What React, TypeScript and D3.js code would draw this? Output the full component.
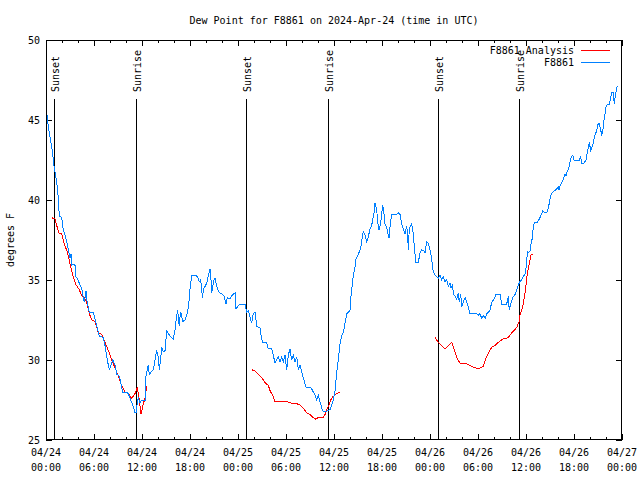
import React from 'react';
import * as d3 from 'd3';

const WIDTH = 640;
const HEIGHT = 480;
const PLOT = { left: 46, right: 622, top: 40, bottom: 440 };

const TITLE = 'Dew Point for F8861 on 2024-Apr-24 (time in UTC)';
const Y_LABEL = 'degrees F';
const START_UTC = Date.UTC(2024, 3, 24, 0, 0);
const HOURS_SPAN = 72;
const Y_DOMAIN: [number, number] = [25, 50];
const Y_TICKS = [25, 30, 35, 40, 45, 50];

// [hours since 04/24 00:00 UTC, dew point °F]
const observed: [number, number][] = [
  [0.13,45.3],[0.29,44.6],[0.79,43.1],[1.0,42.1],[1.25,41.4],[1.41,40.8],[1.54,40.1],[1.66,39.0],[1.96,38.9],[2.16,38.1],[2.38,37.8],[2.59,37.4],[2.79,36.9],[3.0,36.4],[3.13,36.6],[3.21,35.9],[3.41,36.0],[3.63,35.9],[3.71,35.2],[3.91,35.1],[4.16,34.8],[4.46,34.5],[4.66,33.9],[4.79,33.6],[5.0,34.3],[5.09,33.8],[5.29,33.3],[5.41,33.0],[5.91,33.0],[6.25,32.3],[6.66,31.5],[7.16,31.4],[7.38,30.9],[7.66,30.0],[7.91,29.4],[8.21,29.8],[8.34,30.0],[8.63,29.7],[8.84,29.1],[9.16,29.0],[9.34,28.6],[9.59,28.0],[10.0,28.0],[10.29,27.9],[10.59,27.5],[10.91,27.1],[11.13,26.7],[11.29,26.7],[11.44,27.5],[11.54,27.6],[11.75,27.3],[11.96,27.5],[12.16,27.5],[12.38,27.5],[12.5,29.0],[12.66,29.4],[12.79,29.7],[12.91,29.1],[13.41,29.4],[13.63,30.0],[13.84,30.6],[14.04,30.2],[14.16,29.4],[14.34,30.1],[14.46,30.8],[14.66,30.5],[14.88,30.6],[15.09,31.8],[15.5,31.5],[15.91,31.3],[16.13,31.9],[16.34,32.8],[16.46,33.1],[16.66,32.1],[16.75,32.7],[16.84,33.0],[17.09,32.4],[17.38,32.5],[17.59,32.8],[17.79,33.3],[17.91,33.8],[18.0,34.4],[18.09,34.8],[18.21,35.3],[18.41,35.3],[18.75,35.3],[19.04,35.1],[19.16,34.9],[19.34,35.0],[19.46,34.3],[19.59,33.9],[19.66,34.4],[19.88,34.6],[20.09,34.8],[20.29,35.3],[20.5,35.7],[20.63,35.0],[20.71,34.2],[20.84,34.6],[21.0,35.0],[21.13,35.1],[21.34,34.6],[21.54,34.3],[21.75,34.2],[22.09,34.1],[22.25,34.0],[22.5,33.5],[22.66,33.9],[23.0,33.8],[23.21,34.0],[23.41,34.1],[23.63,34.2],[23.75,33.2],[24.04,33.4],[24.25,33.5],[24.88,33.5],[25.09,33.0],[25.29,33.1],[25.5,32.7],[25.71,32.3],[25.91,32.9],[26.13,33.0],[26.34,32.1],[26.75,32.0],[26.96,31.3],[27.09,31.1],[27.59,31.1],[27.79,30.7],[28.21,30.7],[28.41,30.3],[28.63,29.8],[29.04,30.2],[29.25,29.9],[29.46,30.2],[29.66,29.9],[29.88,30.3],[30.09,29.4],[30.29,30.3],[30.5,30.7],[30.71,30.0],[30.91,30.3],[31.13,29.9],[31.34,30.2],[31.54,29.4],[31.75,29.7],[31.96,29.3],[32.16,28.9],[32.5,28.3],[33.0,28.3],[33.21,28.2],[33.41,28.0],[33.63,27.8],[33.84,27.5],[34.04,27.8],[34.25,27.4],[34.46,27.0],[34.66,26.8],[35.09,26.8],[35.5,26.9],[35.71,27.2],[35.91,27.5],[36.13,28.1],[36.34,29.2],[36.54,30.0],[36.75,31.0],[36.96,31.5],[37.16,31.7],[37.38,32.3],[37.59,32.9],[37.79,33.0],[38.0,33.1],[38.09,33.8],[38.21,34.4],[38.41,35.3],[38.63,35.8],[38.75,36.3],[39.04,36.6],[39.34,37.0],[39.54,37.7],[39.66,38.0],[39.88,37.8],[40.09,37.4],[40.29,37.7],[40.5,38.2],[40.71,38.4],[40.84,38.8],[41.0,39.2],[41.13,39.8],[41.34,39.4],[41.46,38.6],[41.63,38.1],[41.84,38.6],[42.09,39.7],[42.25,39.1],[42.38,38.5],[42.59,38.3],[42.79,37.8],[42.91,37.6],[43.0,38.3],[43.21,39.1],[43.84,39.1],[44.04,39.2],[44.25,39.1],[44.46,38.5],[44.66,38.2],[44.88,37.9],[45.09,38.4],[45.21,37.7],[45.29,36.9],[45.41,38.2],[45.59,38.4],[45.71,38.5],[45.84,38.2],[46.0,37.3],[46.13,36.6],[46.25,36.1],[46.54,36.1],[46.75,36.7],[46.96,36.9],[47.25,36.8],[47.38,36.7],[47.59,37.4],[47.79,37.3],[48.0,36.9],[48.21,36.3],[48.41,35.5],[48.63,35.3],[49.04,35.1],[49.25,35.3],[49.46,35.0],[49.66,35.2],[49.88,34.9],[50.09,35.0],[50.29,34.6],[50.5,34.8],[50.63,34.5],[50.84,34.7],[50.91,34.1],[51.13,34.0],[51.34,33.8],[51.54,34.2],[51.66,33.6],[51.84,34.1],[51.96,33.3],[52.16,33.6],[52.38,33.9],[52.59,33.6],[52.79,33.3],[53.0,32.9],[53.41,32.9],[53.84,32.9],[54.04,32.8],[54.25,32.9],[54.46,32.6],[54.66,32.8],[54.88,32.6],[55.09,32.9],[55.5,33.1],[55.71,33.6],[56.0,33.8],[56.25,34.1],[56.75,34.1],[56.96,33.5],[57.59,33.5],[57.79,34.0],[57.91,33.1],[58.09,33.5],[58.34,33.9],[58.63,34.1],[58.84,34.4],[59.04,34.7],[59.25,34.9],[59.46,35.0],[59.66,35.2],[59.88,35.4],[60.09,36.0],[60.16,36.8],[60.29,36.7],[60.5,36.8],[60.59,37.2],[60.71,37.4],[60.84,37.8],[60.91,38.4],[61.13,38.6],[61.41,38.6],[61.66,38.8],[61.84,39.0],[62.09,39.3],[62.38,39.2],[62.59,39.2],[62.79,39.5],[62.91,39.8],[63.09,40.3],[63.34,40.5],[63.63,40.6],[63.84,40.7],[64.04,40.8],[64.16,40.6],[64.25,40.9],[64.46,41.1],[64.66,41.3],[64.88,41.6],[65.0,41.5],[65.09,41.7],[65.29,41.9],[65.41,42.1],[65.59,42.6],[65.84,42.8],[66.0,42.5],[66.34,42.5],[66.66,42.5],[66.84,42.7],[66.96,42.3],[67.25,42.3],[67.5,42.5],[67.66,43.0],[67.79,43.3],[67.91,43.6],[68.09,43.1],[68.34,43.4],[68.5,43.8],[68.63,44.1],[68.84,44.3],[68.96,44.7],[69.13,44.8],[69.34,44.4],[69.46,44.0],[69.59,44.3],[69.75,45.0],[69.88,45.4],[70.0,45.8],[70.16,46.0],[70.41,46.0],[70.59,46.4],[70.71,46.7],[70.91,46.7],[71.04,46.0],[71.16,46.5],[71.34,47.0],[71.41,47.1]
];

const analysisNight1: [number, number][] = [
  [0.71,38.9],[1.13,38.8],[1.34,38.4],[1.66,37.9],[1.96,37.9],[2.16,37.5],[2.38,37.1],[2.66,36.8],[3.0,36.0],[3.21,35.6],[3.41,35.2],[3.75,34.7],[4.16,34.4],[4.46,34.0],[4.75,33.9],[5.09,33.6],[5.41,32.9],[5.71,32.5],[6.13,32.4],[6.54,31.7],[6.96,31.6],[7.38,31.1],[7.79,30.6],[8.21,30.0],[8.63,29.5],[9.04,29.0],[9.46,28.4],[9.88,28.0],[10.29,27.9],[10.71,27.6],[11.13,27.9],[11.41,28.3],[11.66,27.5],[11.88,26.6],[12.09,27.1],[12.41,27.7],[12.59,28.4]
];
const analysisNight2: [number, number][] = [
  [25.71,29.4],[26.13,29.3],[26.54,29.1],[26.96,28.9],[27.38,28.6],[27.79,28.4],[28.0,28.1],[28.41,27.7],[28.63,27.4],[29.25,27.4],[30.09,27.4],[30.71,27.3],[31.13,27.3],[31.75,27.2],[32.16,27.0],[32.59,26.7],[33.0,26.6],[33.41,26.4],[33.63,26.3],[34.04,26.4],[34.66,26.4],[34.88,26.6],[35.16,27.0],[35.41,27.2],[35.59,27.5],[35.84,27.7],[36.13,27.8],[36.34,27.9],[36.75,28.0]
];
const analysisNight3: [number, number][] = [
  [48.63,31.4],[49.04,31.1],[49.46,30.9],[49.88,30.7],[50.29,30.9],[50.71,31.1],[51.13,30.5],[51.41,30.1],[51.75,29.8],[52.38,29.8],[52.79,29.7],[53.21,29.6],[53.75,29.5],[54.25,29.5],[54.66,29.6],[55.0,30.1],[55.29,30.4],[55.71,30.8],[56.13,30.9],[56.54,31.1],[57.09,31.3],[57.79,31.4],[58.21,31.7],[58.63,31.9],[58.91,32.1],[59.13,32.4],[59.25,32.8],[59.46,33.1],[59.66,33.5],[59.88,34.2],[60.0,34.7],[60.16,35.4],[60.41,36.0],[60.63,36.6],[60.91,36.6]
];

const sunEventLabels = ['Sunset', 'Sunrise', 'Sunset', 'Sunrise', 'Sunset', 'Sunrise'];
const sunEventHours = [1.04, 11.29, 25.06, 35.29, 49.0, 59.16];

const legendLabels = ['F8861 Analysis', 'F8861'];
const legendColors = ['#ff0000', '#0080ff'];

const FONT = '"DejaVu Sans Mono", "Liberation Mono", monospace';

const toDate = (h: number) => new Date(START_UTC + h * 3600 * 1000);

export default function App() {
  const x = d3.scaleUtc().domain([toDate(0), toDate(HOURS_SPAN)]).range([PLOT.left, PLOT.right]);
  const y = d3.scaleLinear().domain(Y_DOMAIN).range([PLOT.bottom, PLOT.top]);
  const line = d3.line<[number, number]>().x(d => x(toDate(d[0]))).y(d => y(d[1]));

  const majorTicks = x.ticks(d3.utcHour.every(6)!);
  const minorTicks = x.ticks(d3.utcHour.every(2)!).filter(t => t.getUTCHours() % 6 !== 0);
  const fmtDate = d3.utcFormat('%m/%d');
  const fmtTime = d3.utcFormat('%H:%M');
  const px = (v: number) => Math.round(v) + 0.5;

  return (
    <svg width={WIDTH} height={HEIGHT} style={{ position: 'absolute', left: 0, top: 0, background: '#fff' }}
      fontFamily={FONT} fontSize={10}>
      <rect x={0} y={0} width={WIDTH} height={HEIGHT} fill="#fff" />
      <text x={(PLOT.left + PLOT.right) / 2} y={24} textAnchor="middle">{TITLE}</text>

      {/* y ticks */}
      {Y_TICKS.map(v => (
        <g key={'y' + v} shapeRendering="crispEdges">
          <line x1={PLOT.left} x2={PLOT.left + 6} y1={px(y(v))} y2={px(y(v))} stroke="#000" />
          <line x1={PLOT.right - 6} x2={PLOT.right} y1={px(y(v))} y2={px(y(v))} stroke="#000" />
          <text x={PLOT.left - 6} y={y(v)} dy="0.35em" textAnchor="end">{v}</text>
        </g>
      ))}

      {/* x ticks */}
      {majorTicks.map((t, i) => (
        <g key={'xm' + i} shapeRendering="crispEdges">
          <line x1={px(x(t))} x2={px(x(t))} y1={PLOT.bottom} y2={PLOT.bottom - 6} stroke="#000" />
          <line x1={px(x(t))} x2={px(x(t))} y1={PLOT.top} y2={PLOT.top + 6} stroke="#000" />
          <text x={x(t)} y={456} textAnchor="middle">{fmtDate(t)}</text>
          <text x={x(t)} y={471} textAnchor="middle">{fmtTime(t)}</text>
        </g>
      ))}
      {minorTicks.map((t, i) => (
        <g key={'xn' + i} shapeRendering="crispEdges">
          <line x1={px(x(t))} x2={px(x(t))} y1={PLOT.bottom} y2={PLOT.bottom - 3} stroke="#000" />
          <line x1={px(x(t))} x2={px(x(t))} y1={PLOT.top} y2={PLOT.top + 3} stroke="#000" />
        </g>
      ))}

      <text transform={`translate(14,${(PLOT.top + PLOT.bottom) / 2}) rotate(-90)`} textAnchor="middle">{Y_LABEL}</text>

      {/* sunrise / sunset markers */}
      {sunEventHours.map((h, i) => (
        <g key={'sun' + i}>
          <line x1={px(x(toDate(h)))} x2={px(x(toDate(h)))} y1={99} y2={PLOT.bottom} stroke="#000" shapeRendering="crispEdges" />
          <text transform={`translate(${x(toDate(h)) + 5},92) rotate(-90)`} textAnchor="start">{sunEventLabels[i]}</text>
        </g>
      ))}

      {/* data */}
      {[analysisNight1, analysisNight2, analysisNight3].map((seg, i) => (
        <path key={'a' + i} d={line(seg) || ''} fill="none" stroke={legendColors[0]} strokeWidth={1} shapeRendering="crispEdges" />
      ))}
      <path d={line(observed) || ''} fill="none" stroke={legendColors[1]} strokeWidth={1} shapeRendering="crispEdges" />

      {/* legend */}
      {legendLabels.map((lab, i) => (
        <g key={'lg' + i}>
          <text x={574} y={50 + i * 12} dy="0.35em" textAnchor="end">{lab}</text>
          <line x1={581} x2={610} y1={50.5 + i * 12} y2={50.5 + i * 12} stroke={legendColors[i]} shapeRendering="crispEdges" />
        </g>
      ))}

      <rect x={PLOT.left + 0.5} y={PLOT.top + 0.5} width={PLOT.right - PLOT.left - 1} height={PLOT.bottom - PLOT.top - 1}
        fill="none" stroke="#000" shapeRendering="crispEdges" />
    </svg>
  );
}
